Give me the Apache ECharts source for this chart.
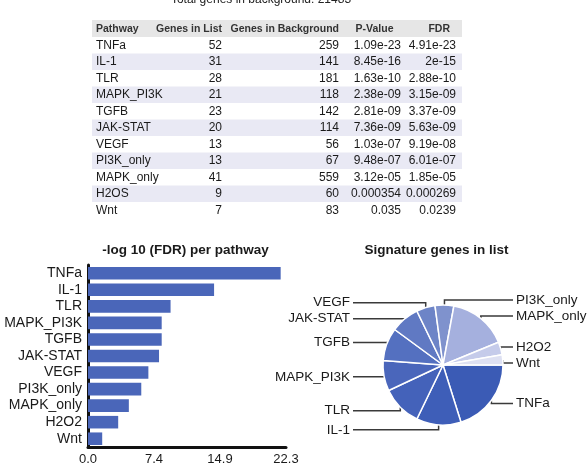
<!DOCTYPE html>
<html>
<head>
<meta charset="utf-8">
<script src="https://cdn.jsdelivr.net/npm/echarts@6/dist/echarts.min.js"></script>
<style>
  html, body { margin: 0; padding: 0; background: #fff; }
  #chart { width: 587px; height: 466px; }
</style>
</head>
<body>
<div id="chart"></div>
<script>
// table data
const pathways = ['TNFa', 'IL-1', 'TLR', 'MAPK_PI3K', 'TGFB', 'JAK-STAT', 'VEGF', 'PI3K_only', 'MAPK_only', 'H2OS', 'Wnt']
const genesInList = [52, 31, 28, 21, 23, 20, 13, 13, 41, 9, 7]
const genesInBackground = [259, 141, 181, 118, 142, 114, 56, 67, 559, 60, 83]
const pValues = ['1.09e-23', '8.45e-16', '1.63e-10', '2.38e-09', '2.81e-09', '7.36e-09', '1.03e-07', '9.48e-07', '3.12e-05', '0.000354', '0.035']
const fdrValues = ['4.91e-23', '2e-15', '2.88e-10', '3.15e-09', '3.37e-09', '5.63e-09', '9.19e-08', '6.01e-07', '1.85e-05', '0.000269', '0.0239']
const tableHeaders = ['Pathway', 'Genes in List', 'Genes in Background', 'P-Value', 'FDR']

// chart data
const chartNames = ['TNFa', 'IL-1', 'TLR', 'MAPK_PI3K', 'TGFB', 'JAK-STAT', 'VEGF', 'PI3K_only', 'MAPK_only', 'H2O2', 'Wnt']
const negLogFdr = [21.7, 14.2, 9.3, 8.3, 8.3, 8.0, 6.8, 6.0, 4.6, 3.4, 1.6]
const xTickMax = 22.3
const pieColors = ['#3b5bb5', '#3e5eb8', '#4462ba', '#4a66bb', '#5470c0', '#6079c3', '#6d84c7', '#7f92cd', '#a5b0de', '#c5cbea', '#dde0f2']

const font = 'Liberation Sans, Arial, Helvetica, sans-serif'

// table layout
const tableLeft = 92, tableRight = 462, headTop = 20, headH = 17, rowH = 16.5
const cols = [
  { vals: pathways, x: 96, align: 'left', hx: 96, halign: 'left' },
  { vals: genesInList, x: 222, align: 'right', hx: 222, halign: 'right' },
  { vals: genesInBackground, x: 339, align: 'right', hx: 339, halign: 'right' },
  { vals: pValues, x: 401, align: 'right', hx: 374.5, halign: 'center' },
  { vals: fdrValues, x: 456, align: 'right', hx: 450, halign: 'right' }
]

const graphics = []
graphics.push({
  type: 'text', x: 261, y: 0,
  style: { text: 'Total genes in background: 21483', font: '12px ' + font, fill: '#222', align: 'center', verticalAlign: 'middle' }
})
graphics.push({
  type: 'rect', shape: { x: tableLeft, y: headTop, width: tableRight - tableLeft, height: headH },
  style: { fill: '#e6e6e6' }
})
pathways.forEach((p, i) => {
  if (i % 2 === 1) {
    graphics.push({
      type: 'rect', shape: { x: tableLeft, y: headTop + headH + i * rowH, width: tableRight - tableLeft, height: rowH },
      style: { fill: '#e9e9f4' }
    })
  }
})
cols.forEach((c, ci) => {
  graphics.push({
    type: 'text', x: c.hx, y: headTop + headH / 2 + 0.5,
    style: { text: tableHeaders[ci], font: 'bold 10.5px ' + font, fill: '#333', align: c.halign, verticalAlign: 'middle' }
  })
  c.vals.forEach((v, i) => {
    graphics.push({
      type: 'text', x: c.x, y: headTop + headH + i * rowH + rowH / 2,
      style: { text: String(v), font: '12px ' + font, fill: '#1a1a1a', align: c.align, verticalAlign: 'middle' }
    })
  })
})

const chart = echarts.init(document.getElementById('chart'))

const pieCenter = [443, 365]

const option = {
  animation: false,
  title: [
    {
      text: '-log 10 (FDR) per pathway', left: 180.5, top: 238, textAlign: 'center',
      textStyle: { fontFamily: font, fontSize: 13.5, fontWeight: 'bold', color: '#1a1a1a' }
    },
    {
      text: 'Signature genes in list', left: 431.5, top: 238, textAlign: 'center',
      textStyle: { fontFamily: font, fontSize: 13.5, fontWeight: 'bold', color: '#1a1a1a' }
    }
  ],
  grid: { left: 88, top: 265, width: 198, height: 182, containLabel: false },
  xAxis: {
    type: 'value', min: 0, max: xTickMax, interval: xTickMax / 3,
    axisLine: { show: true, lineStyle: { color: '#111', width: 3 } },
    axisTick: { show: false },
    splitLine: { show: false },
    axisLabel: {
      margin: 6, color: '#1a1a1a', fontFamily: font, fontSize: 13,
      formatter: v => v.toFixed(1),
      showMinLabel: true, showMaxLabel: true
    }
  },
  yAxis: {
    type: 'category', data: chartNames, inverse: true,
    axisLine: { show: true, lineStyle: { color: '#111', width: 3 } },
    axisTick: { show: false },
    axisLabel: { interval: 0, margin: 6, color: '#1a1a1a', fontFamily: font, fontSize: 14 }
  },
  series: [
    {
      type: 'bar',
      data: negLogFdr,
      barCategoryGap: '24%',
      itemStyle: { color: '#4a66b9' },
      silent: true
    },
    {
      type: 'pie',
      center: pieCenter,
      radius: 60,
      startAngle: 0,
      clockwise: true,
      avoidLabelOverlap: true,
      data: chartNames.map((n, i) => ({ name: n, value: genesInList[i], itemStyle: { color: pieColors[i] } })),
      itemStyle: { borderColor: '#fff', borderWidth: 1.5 },
      label: { show: true, fontFamily: font, fontSize: 13.5, color: '#1a1a1a' },
      labelLine: { show: true, length: 5, length2: 10, smooth: false, lineStyle: { color: '#3a3a3a', width: 1.5 } },
      labelLayout: function (p) {
        const pts = p.labelLinePoints
        if (!pts) return {}
        const a = pts[0]
        const left = a[0] < pieCenter[0]
        const ly = p.labelRect.y + p.labelRect.height / 2
        return {
          x: left ? 350 : 516,
          align: left ? 'right' : 'left',
          labelLinePoints: [a, [a[0], ly], [left ? 353 : 513, ly]]
        }
      },
      silent: true
    }
  ],
  graphic: graphics
}

chart.setOption(option)
</script>
</body>
</html>
